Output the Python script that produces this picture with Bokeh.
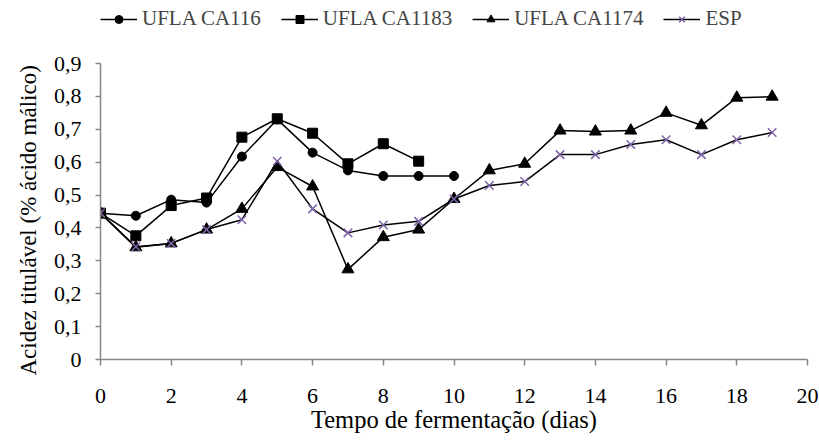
from bokeh.plotting import figure
from bokeh.models import Range1d, FixedTicker, Legend, LegendItem, Title
from bokeh.embed import file_html
from bokeh.resources import INLINE

# Acidez titulável ao longo da fermentação
days_116 = [0, 1, 2, 3, 4, 5, 6, 7, 8, 9, 10]
ca116 = [0.445, 0.437, 0.486, 0.477, 0.617, 0.730, 0.629, 0.575, 0.558, 0.558, 0.558]

days_1183 = [0, 1, 2, 3, 4, 5, 6, 7, 8, 9]
ca1183 = [0.445, 0.376, 0.468, 0.491, 0.676, 0.732, 0.688, 0.595, 0.656, 0.603]

days_1174 = list(range(20))
ca1174 = [0.445, 0.341, 0.353, 0.395, 0.458, 0.585, 0.526, 0.274, 0.372, 0.395,
          0.488, 0.575, 0.595, 0.696, 0.693, 0.696, 0.750, 0.712, 0.796, 0.799]

days_esp = list(range(20))
esp = [0.445, 0.343, 0.353, 0.395, 0.425, 0.603, 0.458, 0.385, 0.409, 0.420,
       0.488, 0.529, 0.541, 0.623, 0.623, 0.654, 0.668, 0.623, 0.668, 0.690]

x_ticks = list(range(0, 21, 2))
y_ticks = [i / 10 for i in range(10)]
y_labels = ["0", "0,1", "0,2", "0,3", "0,4", "0,5", "0,6", "0,7", "0,8", "0,9"]

FONT = "Liberation Serif"
AXIS_GRAY = "#868686"
PURPLE = "#7f63a8"

# the y axis runs 0..0.9; the frame reaches higher so the legend fits above the data
PX_PER_UNIT = 296 / 0.9
FRAME_H = 357
p = figure(frame_width=707, frame_height=FRAME_H, output_backend="svg", toolbar_location=None,
           x_range=Range1d(0, 20), y_range=Range1d(0, FRAME_H / PX_PER_UNIT),
           min_border_left=100, min_border_right=12, min_border_top=2, min_border_bottom=82)
p.outline_line_color = None
p.xgrid.visible = False
p.ygrid.visible = False

p.xaxis.ticker = FixedTicker(ticks=x_ticks)
p.yaxis.ticker = FixedTicker(ticks=y_ticks)
p.yaxis.bounds = (0, 0.9)
p.yaxis.major_label_overrides = {t: l for t, l in zip(y_ticks, y_labels)}
p.xaxis.axis_label = "Tempo de fermentação (dias)"
for ax in (p.xaxis[0], p.yaxis[0]):
    ax.axis_line_color = AXIS_GRAY
    ax.axis_line_width = 1.5
    ax.major_tick_line_color = AXIS_GRAY
    ax.major_tick_line_width = 1.5
    ax.major_tick_in = 0
    ax.minor_tick_line_color = None
    ax.major_label_text_font = FONT
    ax.major_label_text_font_size = "22px"
    ax.major_label_text_color = "black"
    ax.axis_label_text_font = FONT
    ax.axis_label_text_font_style = "normal"
    ax.axis_label_text_color = "black"
p.xaxis.axis_label_text_font_size = "24.5px"
p.xaxis.major_tick_out = 6
p.yaxis.major_tick_out = 5
p.xaxis.major_label_standoff = 23
p.yaxis.major_label_standoff = 14
p.xaxis.axis_label_standoff = 0

# y axis title, started just below the x axis line and reading upwards
y_title = Title(text="Acidez titulável (% ácido málico)", align="left", offset=-16,
                text_font=FONT, text_font_size="23px", text_font_style="normal",
                text_color="black", standoff=20)
p.add_layout(y_title, "left")

l1 = p.line(days_116, ca116, line_color="black", line_width=1.5)
m1 = p.scatter(days_116, ca116, marker="circle", size=9, fill_color="black", line_color="black")
l2 = p.line(days_1183, ca1183, line_color="black", line_width=1.5)
m2 = p.scatter(days_1183, ca1183, marker="square", size=10, fill_color="black", line_color="black")
l3 = p.line(days_1174, ca1174, line_color="black", line_width=1.5)
m3 = p.scatter(days_1174, ca1174, marker="triangle", size=12, fill_color="black", line_color="black")
l4 = p.line(days_esp, esp, line_color="black", line_width=1.5)
m4 = p.scatter(days_esp, esp, marker="x", size=12, line_color=PURPLE, line_width=1.5)

legend = Legend(items=[
    LegendItem(label="UFLA CA116", renderers=[l1, m1]),
    LegendItem(label="UFLA CA1183", renderers=[l2, m2]),
    LegendItem(label="UFLA CA1174", renderers=[l3, m3]),
    LegendItem(label="ESP", renderers=[l4, m4]),
], orientation="horizontal", location=(0, 328))
legend.border_line_color = None
legend.background_fill_alpha = 0
legend.label_text_font = FONT
legend.label_text_font_size = "21px"
legend.glyph_width = 37
legend.glyph_height = 20
legend.label_standoff = 5
legend.spacing = 20
legend.padding = 0
legend.margin = 0
legend.label_height = 20
p.add_layout(legend)

open("out.html", "w").write(file_html(p, INLINE))
